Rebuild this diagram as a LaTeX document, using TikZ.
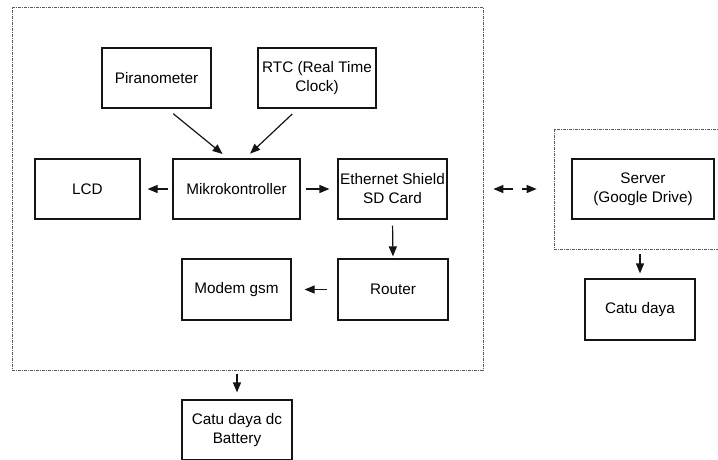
\documentclass[tikz,border=0pt]{standalone}
\usepackage{fontspec}
\setmainfont{Liberation Sans}
\usetikzlibrary{arrows.meta, positioning, calc}
\definecolor{boxline}{RGB}{20,20,20}
\definecolor{frameline}{RGB}{90,90,90}
\tikzset{
  blok/.style={rectangle, draw=boxline, line width=1.2pt, align=center,
    minimum height=60pt, inner sep=0pt,
    font=\fontsize{15.3}{19}\selectfont},
  bingkai/.style={rectangle, draw=frameline, line width=0.7pt,
    dash pattern=on 3pt off 1pt on 1pt off 1pt, inner sep=0pt},
  panah/.style={-{Triangle[length=10pt,width=8pt]}, line width=1.2pt, color=boxline}
}
\begin{document}
\begin{tikzpicture}[x=1pt, y=-1pt]
  \useasboundingbox (0,0) rectangle (718,459);

  % Dashed frames
  \node[bingkai, minimum width=471pt, minimum height=363pt] (sistem) at (247.5,188.5) {};
  \node[bingkai, minimum width=171pt, minimum height=120pt] (cloud) at (639.5,189) {};

  % Blocks inside the system frame
  \node[blok, minimum width=109pt] (piran) at (156.5,78) {Piranometer};
  \node[blok, minimum width=118pt] (rtc) at (317,78) {RTC (Real Time\\Clock)};
  \node[blok, minimum width=105pt] (lcd) at (87.5,189) {LCD};
  \node[blok, minimum width=127pt] (mikro) at (236.5,189) {Mikrokontroller};
  \node[blok, minimum width=109pt] (eth) at (392.5,189) {Ethernet Shield\\SD Card};
  \node[blok, minimum width=109pt, minimum height=61pt] (modem) at (236.5,289.5) {Modem gsm};
  \node[blok, minimum width=110pt, minimum height=61pt] (router) at (393,289.5) {Router};

  % Power supplies and server
  \node[blok, minimum width=110pt] (batt) at (237,430) {Catu daya dc\\Battery};
  \node[blok, minimum width=142pt] (server) at (643,189) {Server\\(Google Drive)};
  \node[blok, minimum width=110pt, minimum height=61pt] (catu) at (640,309.5) {Catu daya};

  % Connections
  \draw[panah, shorten <=8pt, shorten >=7pt] ($(piran.south)+(10.5,0)$) -- ($(mikro.north)+(-8.5,0)$);
  \draw[panah, shorten <=8pt, shorten >=7pt] ($(rtc.south)+(-19,0)$) -- ($(mikro.north)+(8.5,0)$);
  \draw[panah, shorten <=4pt, shorten >=7pt] (mikro.west) -- (lcd.east);
  \draw[panah, shorten <=5pt, shorten >=8pt] (mikro.east) -- (eth.west);
  \draw[panah, shorten <=6pt, shorten >=2pt] (eth.south) -- (router.north);
  \draw[panah, shorten <=10pt, shorten >=13pt] (router.west) -- (modem.east);

  % Link to the server
  \coordinate (linkL) at (513,189);
  \coordinate (linkR) at (522,189);
  \draw[panah, shorten >=10pt] (linkL) -- (sistem.east |- linkL);
  \draw[panah, shorten >=17pt] (linkR) -- (cloud.west |- linkR);

  \draw[panah, shorten <=4pt, shorten >=7pt] (sistem.south -| batt) -- (batt.north);
  \draw[panah, shorten <=5pt, shorten >=5pt] (cloud.south -| catu) -- (catu.north);
\end{tikzpicture}
\end{document}
